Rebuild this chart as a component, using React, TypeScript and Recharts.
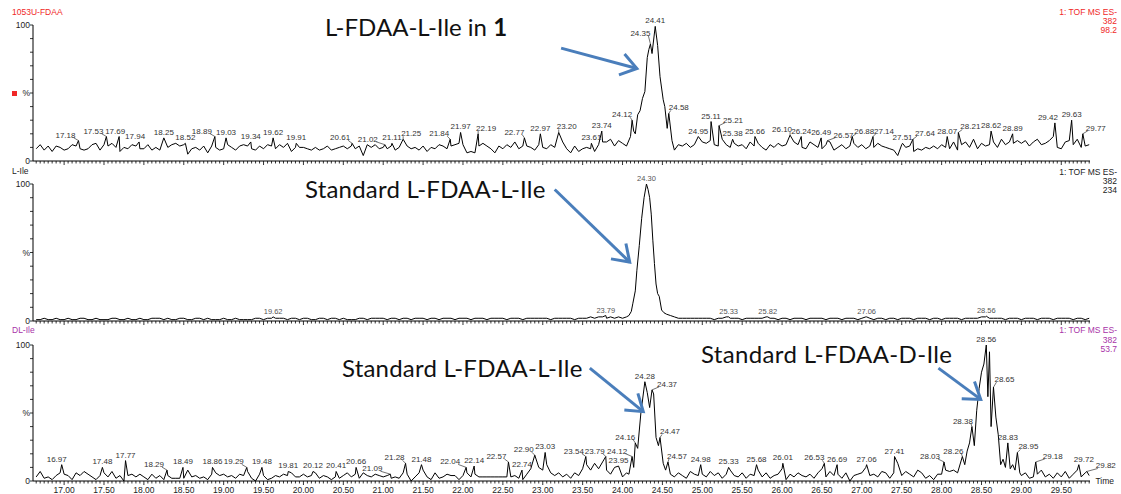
import React from 'react';
import { LineChart, Line, XAxis, YAxis, ReferenceLine, LabelList } from 'recharts';

// ---------- axis definitions ----------
const GRID_START = 16.65;
const GRID_STEP = 0.05;
const X_MIN = 16.61;
const X_MAX = 29.86;
const X_TICK_LABELS = ['17.00','17.50','18.00','18.50','19.00','19.50','20.00','20.50','21.00','21.50','22.00','22.50','23.00','23.50','24.00','24.50','25.00','25.50','26.00','26.50','27.00','27.50','28.00','28.50','29.00','29.50'];
const Y_TICKS = [0, 10, 20, 30, 40, 50, 60, 70, 80, 90, 100];
const Y_TICK_LABELS: Record<number, string> = { 0: '0', 50: '%', 100: '100' };

const PANEL_TITLES = ['1053U-FDAA', 'L-Ile', 'DL-Ile'];
const PANEL_INFO = [
  ['1: TOF MS ES-', '382', '98.2'],
  ['1: TOF MS ES-', '382', '234'],
  ['1: TOF MS ES-', '382', '53.7'],
];

// ---------- panel 1 : 1053U-FDAA (grid 16.65 .. 29.85 step 0.05) ----------
const P1_BASE: (number | null)[] = [
  9, 12, 8, 11, 7, 11, 10,
  8, 9, 12, 11, 9, 8, 9, 12, 13, 8, 12, 11, 13, 10, 7, 10, 9, 12, 11, 9,
  9, 12, 8, 10, 8, 11, 10, 12, 13, 11, 12, 5, 9, 10, 8, 11, 6, 11, 10, 8,
  9, 12, 10, 8, 11, 12, 11, 9, 8, 11, 9, 12, 11, 9, 12, 10, 13, 7, 10, 10,
  10, 9, 8, 10, 8, 9, 11, 8, 9, 10, 11, 9, 11, 9, 11, 4, 12, 10, 12, 9,
  10, 9, 11, 8, 10, 11, 11, 9, 10, 8, 11, 7, 10, 9, 12, 11, 9, 11, 12, 13,
  12, 6, 7, 6, 11, 13, 11, 9, 6, 11, 9, 12, 10, 14, 9, 11, 11, 10, 8, 12,
  10, 9, 12, 10, 13, 14, 9, 6, 11, 7, 9, 10, 9, 7, 12, 14, 14, 16, 11, 15,
  13, 11, 18, null, null, null, null, null, null, null, null, null, null, null, 12, 11, 13, 10, 12, 11,
  14, 13, 15, 12, 11, 16, 12, 10, 13, 11, 12, 9, 14, 11, 13, 10, 8, 12, 10, 13,
  11, 12, 8, 14, 12, 10, 9, 14, 12, 10, 9, 12, 14, 8, 10, 12, 9, 11, 13, 10,
  12, 9, 11, 10, 13, 11, 10, 9, 8, 4, 12, 10, 11, 7, 9, 8, 10, 9, 11, 9,
  12, 10, 9, 14, 8, 12, 14, 10, 16, 9, 13, 11, 12, 14, 10, 16, 12, 14, 13, 15,
  13, 15, 11, 14, 16, 12, 13, 15, 18, 10, 9, 14, 15, 12, 16, 10, 11, 12,
];
const P1_SHAPE_T = [24.14, 24.16, 24.19, 24.22, 24.25, 24.28, 24.31, 24.33, 24.37, 24.44, 24.47, 24.51, 24.53, 24.56, 24.62, 24.65];
const P1_SHAPE_V = [22, 20, 34, 37, 46, 51, 76, 82, 79, 85, 62, 45, 40, 24, 15, 8];
const P1_PEAK_T = [17.18, 17.53, 17.69, 17.94, 18.25, 18.52, 18.89, 19.03, 19.34, 19.62, 19.91, 20.61, 21.02, 21.11, 21.25, 21.84, 21.97, 22.19, 22.77, 22.97, 23.20, 23.61, 23.74, 24.12, 24.35, 24.41, 24.58, 24.95, 25.11, 25.21, 25.38, 25.66, 26.10, 26.24, 26.49, 26.57, 26.88, 27.14, 27.51, 27.64, 28.07, 28.21, 28.62, 28.89, 29.42, 29.63, 29.77];
const P1_PEAK_V = [15, 18, 18, 14, 17, 13, 18, 17, 14, 17, 13, 13, 12, 13, 16, 16, 21, 20, 17, 20, 21, 13, 22, 30, 86, 99, 35, 18, 29, 26, 16, 18, 19, 18, 17, 15, 18, 18, 13, 16, 18, 21, 22, 20, 28, 30, 20];

// ---------- panel 2 : L-Ile ----------
const P2_BASE: (number | null)[] = [
  1, 1, 2, 1, 1, 2, 1,
  1, 2, 1, 1, 2, 2, 1, 1, 2, 1, 1, 1, 2, 2, 1, 1, 2, 1, 1, 2,
  1, 1, 2, 2, 2, 1, 2, 1, 1, 2, 2, 1, 1, 2, 2, 1, 2, 1, 1, 1,
  2, 1, 1, 2, 1, 1, 1, 1, 2, 2, 1, 2, 2, 2, 2, 2, 1, 2, 2, 1,
  2, 2, 1, 1, 2, 2, 1, 2, 2, 1, 2, 1, 1, 1, 2, 2, 1, 2, 2, 2,
  2, 1, 2, 2, 1, 2, 2, 1, 2, 2, 2, 1, 2, 2, 1, 2, 2, 2, 1, 2,
  2, 2, 1, 2, 2, 2, 1, 2, 2, 2, 2, 1, 2, 2, 2, 1, 2, 2, 2, 2,
  2, 2, 1, 2, 2, 2, 2, 2, 1, 2, 2, 2, 3, 2, 3, 3, 2, 3, 2, 3,
  2, 3, null, null, null, null, null, null, null, null, null, null, 4, 3, 2, 2, 2, 2, 2, 2,
  2, 2, 2, 1, 2, 2, 3, 2, 2, 2, 1, 2, 2, 2, 2, 2, 3, 2, 2, 1,
  2, 2, 1, 2, 2, 2, 1, 2, 2, 2, 2, 1, 2, 2, 2, 1, 2, 2, 2, 1,
  2, 3, 2, 1, 2, 2, 1, 2, 2, 1, 2, 2, 2, 1, 2, 2, 2, 1, 2, 2,
  1, 2, 2, 2, 2, 1, 2, 2, 2, 2, 3, 3, 2, 2, 2, 2, 1, 2, 2, 2,
  1, 2, 2, 2, 1, 2, 2, 2, 1, 2, 2, 2, 2, 1, 2, 2, 1, 2,
];
const P2_SHAPE_T = [24.08, 24.11, 24.13, 24.16, 24.18, 24.21, 24.24, 24.27, 24.32, 24.34, 24.36, 24.38, 24.40, 24.42, 24.44, 24.46, 24.49, 24.52, 24.55];
const P2_SHAPE_V = [4, 7, 13, 22, 37, 55, 75, 90, 96, 90, 78, 59, 42, 27, 20, 18, 8, 6, 5];
const P2_PEAK_T = [19.62, 23.79, 24.30, 25.33, 25.82, 27.06, 28.56];
const P2_PEAK_V = [3, 4, 100, 3, 3, 3, 3.5];

// ---------- panel 3 : DL-Ile ----------
const P3_BASE: (number | null)[] = [
  3, 7, 2, 3, 1, 4, 6,
  5, 4, 1, 6, 4, 7, 5, 3, 1, 4, 6, 3, 7, 2, 4, 0, 4, 5, 3, 5,
  3, 1, 5, 2, 4, 1, 4, 2, 2, 2, 2, 8, 3, 4, 2, 3, 1, 5, 6, 4,
  5, 3, 4, 2, 5, 4, 7, 2, 0, 5, 4, 1, 2, 4, 3, 5, 4, 6, 3, 3,
  5, 3, 4, 6, 2, 4, 3, 1, 3, 2, 4, 6, 3, 5, 2, 6, 4, 3, 5, 4,
  3, 4, 2, 3, 2, 6, 5, 0, 3, 6, 8, 3, 1, 6, 2, 3, 5, 4, 4, 1,
  4, 6, 3, 5, 3, 3, 3, 3, 3, 3, 3, 3, 3, 4, 2, 1, 5, 9, 3, 10,
  8, 12, 6, 4, 6, 3, 5, 2, 6, 4, 9, 12, 8, 13, 9, 14, 8, 5, 10, 2,
  3, 6, null, null, null, null, null, null, null, null, null, null, 5, 3, 6, 4, 2, 7, 5, 4,
  5, 3, 7, 4, 6, 2, 5, 8, 4, 3, 6, 2, 5, 4, 8, 3, 6, 2, 4, 5,
  9, 1, 5, 3, 6, 4, 3, 5, 2, 6, 9, 3, 7, 4, 5, 2, 6, 0, 4, 5,
  6, 10, 4, 5, 3, 7, 6, 2, 6, 13, 4, 7, 5, 3, 8, 6, 2, 4, 1, 5,
  5, 8, 7, 8, 6, null, null, null, null, null, null, null, null, null, null, null, null, null, null, null,
  4, 6, 2, 3, 5, 8, 3, 5, 2, 6, 3, 7, 2, 5, 8, 3, 6, 4,
];
const P3_SHAPE_T = [24.08, 24.14, 24.19, 24.23, 24.31, 24.34, 24.39, 24.42, 24.45, 24.51, 24.54, 28.29, 28.32, 28.35, 28.41, 28.44, 28.47, 28.50, 28.53, 28.58, 28.60, 28.62, 28.68, 28.71, 28.74, 28.77, 28.80, 28.86, 28.89, 28.92, 28.98];
const P3_SHAPE_V = [5, 10, 24, 50, 65, 54, 64, 32, 26, 13, 8, 12, 22, 28, 26, 52, 68, 80, 86, 62, 95, 40, 47, 34, 12, 16, 10, 9, 12, 8, 6];
const P3_PEAK_T = [16.97, 17.48, 17.77, 18.29, 18.49, 18.86, 19.29, 19.48, 19.81, 20.12, 20.41, 20.66, 21.09, 21.28, 21.48, 22.04, 22.14, 22.57, 22.74, 22.90, 23.03, 23.54, 23.79, 23.95, 24.12, 24.16, 24.28, 24.37, 24.47, 24.57, 24.98, 25.33, 25.68, 26.01, 26.53, 26.69, 27.06, 27.41, 28.03, 28.26, 28.38, 28.56, 28.65, 28.83, 28.95, 29.18, 29.72, 29.82];
const P3_PEAK_V = [12, 10, 15, 8, 10, 10, 10, 10, 7, 7, 7, 10, 5, 13, 12, 10, 11, 14, 8, 19, 21, 18, 18, 11, 18, 28, 73, 67, 32, 14, 12, 10, 12, 13, 13, 12, 12, 18, 14, 18, 40, 100, 69, 28, 21, 14, 12, 7];

// ---------- peak-label placement (pixel nudges, like the instrument software) ----------
const P1_LABEL_DX: Record<string, number> = {
  '17.18': -13, '17.53': -13, '17.69': -4, '17.94': -4, '18.89': -13, '20.61': -12, '21.02': -17,
  '21.25': 8, '21.84': -11, '22.19': 8, '22.77': -10, '23.20': 8, '24.12': -10, '24.35': -10,
  '24.58': 10, '25.21': 14, '26.10': -8, '26.57': 16, '26.88': 12, '27.14': 11, '27.64': 12,
  '28.21': 12, '29.42': -7, '29.77': 13,
};
const P1_LABEL_DY: Record<string, number> = { '24.35': -5 };
const P2_LABEL_DX: Record<string, number> = {};
const P2_LABEL_DY: Record<string, number> = {};
const P3_LABEL_DX: Record<string, number> = {
  '16.97': -5, '18.29': -13, '19.29': -13, '21.09': -18, '21.28': -11, '22.04': -16, '22.57': -12,
  '22.90': -11, '23.54': -12, '23.79': -11, '24.12': -15, '24.16': -10, '24.37': 15, '24.47': 10,
  '24.57': 9, '26.53': -10, '28.03': -14, '28.26': -9, '28.38': -9, '28.65': 11, '28.95': 11,
  '29.18': 17, '29.72': 5, '29.82': 19,
};
const P3_LABEL_DY: Record<string, number> = { '28.65': -2 };

// ---------- annotation arrows (data coordinates) ----------
const ARROWS_P1 = [{ x1: 23.23, y1: 83, x2: 24.18, y2: 68 }];
const ARROWS_P2 = [{ x1: 23.15, y1: 96, x2: 24.09, y2: 43 }];
const ARROWS_P3 = [
  { x1: 23.59, y1: 83, x2: 24.26, y2: 51 },
  { x1: 27.96, y1: 83, x2: 28.49, y2: 60 },
];

// ---------- helpers ----------
type Pt = { t: number; v: number; lab?: string };
const key = (t: number) => Math.round(t * 100);

function buildSeries(base: (number | null)[], shapeT: number[], shapeV: number[], peakT: number[], peakV: number[]): Pt[] {
  const m = new Map<number, Pt>();
  base.forEach((v, i) => {
    if (v === null) return;
    const t = Math.round((GRID_START + i * GRID_STEP) * 100) / 100;
    m.set(key(t), { t, v });
  });
  shapeT.forEach((t, i) => m.set(key(t), { t, v: shapeV[i] }));
  peakT.forEach((t, i) => m.set(key(t), { t, v: peakV[i], lab: t.toFixed(2) }));
  return Array.from(m.values()).sort((a, b) => a.t - b.t);
}

const X_TICKS: number[] = [];
for (let k = 0; k < P1_BASE.length; k++) X_TICKS.push(Math.round((GRID_START + k * GRID_STEP) * 100) / 100);

const DATA1 = buildSeries(P1_BASE, P1_SHAPE_T, P1_SHAPE_V, P1_PEAK_T, P1_PEAK_V);
const DATA2 = buildSeries(P2_BASE, P2_SHAPE_T, P2_SHAPE_V, P2_PEAK_T, P2_PEAK_V);
const DATA3 = buildSeries(P3_BASE, P3_SHAPE_T, P3_SHAPE_V, P3_PEAK_T, P3_PEAK_V);

const FONT = '"Liberation Sans", Arial, sans-serif';
const ARROW_COLOR = '#4a7ebb';

const XTick = (props: any) => {
  const { x, y, payload, showLabels } = props;
  const v: number = payload.value;
  const s = v.toFixed(2);
  const major = X_TICK_LABELS.includes(s);
  return (
    <g>
      <line x1={x} x2={x} y1={y} y2={y + (major ? 4 : 2.5)} stroke="#000" strokeWidth={0.8} />
      {showLabels && major && (
        <text x={x} y={y + 12} textAnchor="middle" fontSize={8.5} fill="#222" fontFamily={FONT}>{s}</text>
      )}
    </g>
  );
};

const YTick = (props: any) => {
  const { x, y, payload } = props;
  const lab = Y_TICK_LABELS[payload.value];
  return (
    <g>
      <line x1={x - 3} x2={x} y1={y} y2={y} stroke="#000" strokeWidth={0.8} />
      {lab && (
        <text x={x - 3} y={y + 3} textAnchor="end" fontSize={8.5} fill="#222" fontFamily={FONT}>{lab}</text>
      )}
    </g>
  );
};

const makePeakLabel = (color: string, size: number, dxMap: Record<string, number>, dyMap: Record<string, number>) => (props: any) => {
  const { x, y, value } = props;
  if (value === undefined || value === null || value === '') return null;
  const dx = dxMap[value] || 0;
  const dy = dyMap[value] || 0;
  const lx = x + dx;
  const ly = y - 3 + dy;
  const lead = Math.abs(dx) >= 8;
  return (
    <g>
      {lead && (
        <line x1={lx - Math.sign(dx) * 8} y1={ly} x2={x} y2={y} stroke="#333" strokeWidth={0.7} />
      )}
      <text x={lx} y={ly} textAnchor="middle" fontSize={size} fill={color} fontFamily={FONT}>{value}</text>
    </g>
  );
};

const ArrowShape = (props: any) => {
  const { x1, y1, x2, y2 } = props;
  if ([x1, y1, x2, y2].some((n) => typeof n !== 'number' || isNaN(n))) return null;
  const ang = Math.atan2(y2 - y1, x2 - x1);
  const L = 19;
  const a = 0.6;
  const ax1 = x2 - L * Math.cos(ang - a);
  const ay1 = y2 - L * Math.sin(ang - a);
  const ax2 = x2 - L * Math.cos(ang + a);
  const ay2 = y2 - L * Math.sin(ang + a);
  return (
    <g>
      <line x1={x1} y1={y1} x2={x2} y2={y2} stroke={ARROW_COLOR} strokeWidth={3} />
      <polyline points={`${ax1},${ay1} ${x2},${y2} ${ax2},${ay2}`} fill="none" stroke={ARROW_COLOR} strokeWidth={3} strokeLinejoin="miter" />
    </g>
  );
};

type PanelProps = {
  top: number;
  height: number;
  marginTop: number;
  axisHeight: number;
  data: Pt[];
  showLabels: boolean;
  labelColor: string;
  labelSize: number;
  dxMap: Record<string, number>;
  dyMap: Record<string, number>;
  arrows: { x1: number; y1: number; x2: number; y2: number }[];
};

function Panel({ top, height, marginTop, axisHeight, data, showLabels, labelColor, labelSize, dxMap, dyMap, arrows }: PanelProps) {
  return (
    <div style={{ position: 'absolute', left: 0, top, width: 1121, height }}>
      <LineChart width={1121} height={height} data={data} margin={{ top: marginTop, right: 31, bottom: 0, left: 0 }}>
        <XAxis
          dataKey="t"
          type="number"
          domain={[X_MIN, X_MAX]}
          ticks={X_TICKS}
          interval={0}
          tickSize={0}
          tickMargin={0}
          tickLine={false}
          axisLine={{ stroke: '#000', strokeWidth: 1 }}
          height={axisHeight}
          tick={(p: any) => <XTick {...p} showLabels={showLabels} />}
        />
        <YAxis
          type="number"
          domain={[0, 100]}
          ticks={Y_TICKS}
          interval={0}
          width={33}
          tickSize={0}
          tickMargin={0}
          tickLine={false}
          axisLine={{ stroke: '#000', strokeWidth: 1 }}
          tick={(p: any) => <YTick {...p} />}
        />
        <Line dataKey="v" type="linear" stroke="#000" strokeWidth={1} dot={false} isAnimationActive={false}>
          <LabelList dataKey="lab" content={makePeakLabel(labelColor, labelSize, dxMap, dyMap)} />
        </Line>
        {arrows.map((a, i) => (
          <ReferenceLine
            key={i}
            segment={[{ x: a.x1, y: a.y1 }, { x: a.x2, y: a.y2 }]}
            ifOverflow="visible"
            shape={(p: any) => <ArrowShape {...p} />}
          />
        ))}
      </LineChart>
    </div>
  );
}

const TITLE_COLORS = ['#f02828', '#222', '#a832a8'];
const TITLE_Y = [15, 174, 333];
const INFO_Y = [[15, 24, 33], [175, 184, 193], [333, 343, 352]];

export default function App() {
  return (
    <div style={{ position: 'absolute', left: 0, top: 0, width: 1121, height: 494, background: '#fff', overflow: 'hidden' }}>
      <Panel top={0} height={170} marginTop={25} axisHeight={9} data={DATA1} showLabels={false} labelColor="#333" labelSize={8} dxMap={P1_LABEL_DX} dyMap={P1_LABEL_DY} arrows={ARROWS_P1} />
      <Panel top={170} height={160} marginTop={14} axisHeight={9} data={DATA2} showLabels={false} labelColor="#555" labelSize={7.5} dxMap={P2_LABEL_DX} dyMap={P2_LABEL_DY} arrows={ARROWS_P2} />
      <Panel top={330} height={164} marginTop={15} axisHeight={13} data={DATA3} showLabels={true} labelColor="#333" labelSize={8} dxMap={P3_LABEL_DX} dyMap={P3_LABEL_DY} arrows={ARROWS_P3} />
      <svg width={1121} height={494} style={{ position: 'absolute', left: 0, top: 0, pointerEvents: 'none' }}>
        {PANEL_TITLES.map((t, i) => (
          <text key={t} x={12} y={TITLE_Y[i]} fontSize={8.5} fill={TITLE_COLORS[i]} fontFamily={FONT}>{t}</text>
        ))}
        {PANEL_INFO.map((lines, i) =>
          lines.map((l, j) => (
            <text key={`${i}-${j}`} x={1117} y={INFO_Y[i][j]} fontSize={8.5} textAnchor="end" fill={TITLE_COLORS[i]} fontFamily={FONT}>{l}</text>
          ))
        )}
        <rect x={12} y={91} width={5} height={5} fill="#f02828" />
        <text x={1114} y={484} fontSize={8.5} textAnchor="end" fill="#222" fontFamily={FONT}>Time</text>
        <g fontFamily="Lato, 'Open Sans', sans-serif" fontSize={24} fill="#111">
          <text x={325} y={36}>L-FDAA-L-Ile in <tspan fontWeight="bold">1</tspan></text>
          <text x={305} y={198} letterSpacing={0.2}>Standard L-FDAA-L-Ile</text>
          <text x={342} y={377} letterSpacing={0.2}>Standard L-FDAA-L-Ile</text>
          <text x={701} y={363} letterSpacing={0.35}>Standard L-FDAA-D-Ile</text>
        </g>
      </svg>
    </div>
  );
}
